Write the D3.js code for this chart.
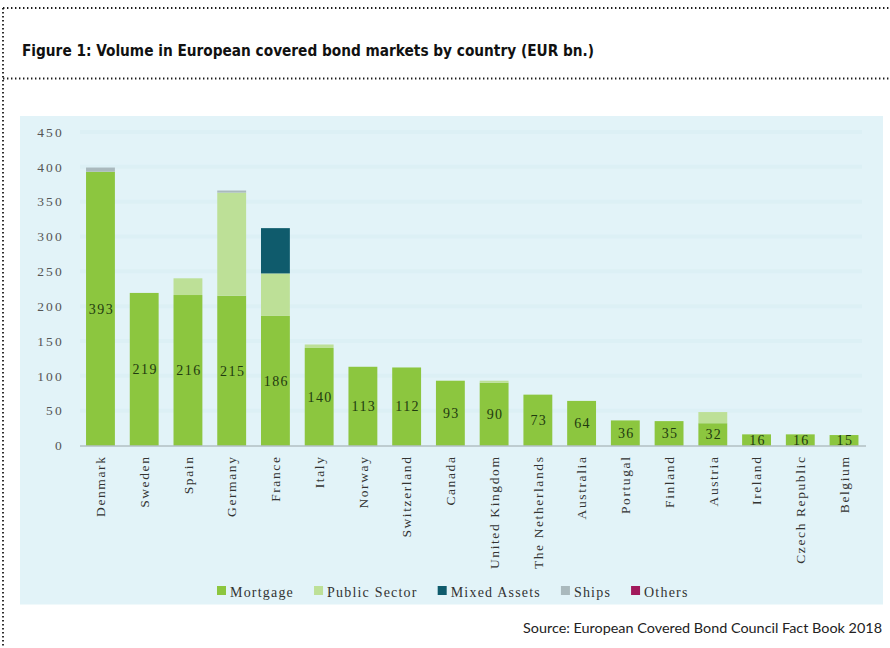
<!DOCTYPE html>
<html>
<head>
<meta charset="utf-8">
<script src="https://cdn.jsdelivr.net/npm/d3@7/dist/d3.min.js"></script>
<style>
  html, body { margin: 0; padding: 0; background: #ffffff; }
  svg { display: block; }
  .serif { font-family: "Liberation Serif", "DejaVu Serif", "Times New Roman", Times, serif; }
</style>
</head>
<body>
<svg id="chart" width="890" height="648"></svg>
<script>
// Covered bond volumes by country, EUR bn, split by collateral type
const categories = ["Denmark", "Sweden", "Spain", "Germany", "France", "Italy", "Norway",
  "Switzerland", "Canada", "United Kingdom", "The Netherlands", "Australia", "Portugal",
  "Finland", "Austria", "Ireland", "Czech Republic", "Belgium"];
const mortgage     = [393, 219, 216, 215, 186, 140, 113, 112, 93, 90, 73, 64, 36, 35, 32, 16, 16, 15];
const publicSector = [0, 0, 24, 148, 61, 5, 0, 0, 0, 3, 0, 0, 0, 0, 16, 0, 0, 0];
const mixedAssets  = [0, 0, 0, 0, 65, 0, 0, 0, 0, 0, 0, 0, 0, 0, 0, 0, 0, 0];
const ships        = [6, 0, 0, 3, 0, 0, 0, 0, 0, 0, 0, 0, 0, 0, 0, 0, 0, 0];
const others       = [0, 0, 0, 0, 0, 0, 0, 0, 0, 0, 0, 0, 0, 0, 0, 0, 0, 0];
const seriesNames  = ["Mortgage", "Public Sector", "Mixed Assets", "Ships", "Others"];
const yTicks       = [0, 50, 100, 150, 200, 250, 300, 350, 400, 450];

const titleText  = "Figure 1: Volume in European covered bond markets by country (EUR bn.)";
const sourceText = "Source: European Covered Bond Council Fact Book 2018";

const colors = {
  "Mortgage": "#8cc63f",
  "Public Sector": "#bde097",
  "Mixed Assets": "#0f5b6c",
  "Ships": "#aab9bd",
  "Others": "#a1195b"
};

const seriesValues = [mortgage, publicSector, mixedAssets, ships, others];
const rows = categories.map((c, i) => {
  const r = { country: c };
  seriesNames.forEach((s, k) => { r[s] = seriesValues[k][i]; });
  return r;
});

const svg = d3.select("#chart");

// Frame: dotted rules around the figure header
const dots = svg.append("g")
  .attr("stroke", "#1a1a1a")
  .attr("stroke-width", 1.8)
  .attr("stroke-dasharray", "1.4 2.6")
  .attr("fill", "none");
dots.append("line").attr("x1", 3).attr("x2", 890).attr("y1", 8).attr("y2", 8);
dots.append("line").attr("x1", 3).attr("x2", 890).attr("y1", 78.5).attr("y2", 78.5);
dots.append("line").attr("x1", 3).attr("x2", 3).attr("y1", 8).attr("y2", 648);

svg.append("text")
  .attr("x", 22)
  .attr("y", 55.5)
  .style("font-family", "'DejaVu Sans Condensed', 'Liberation Sans Narrow', 'Liberation Sans', sans-serif")
  .style("font-weight", "bold")
  .style("font-size", "16px")
  .attr("fill", "#111")
  .attr("textLength", 572)
  .attr("lengthAdjust", "spacingAndGlyphs")
  .text(titleText);

// Plot panel background
svg.append("rect")
  .attr("x", 20).attr("y", 116)
  .attr("width", 863).attr("height", 488.5)
  .attr("fill", "#e2f3f8");

const x = d3.scaleBand()
  .domain(categories)
  .range([78.6, 865.9])
  .paddingInner(0.34)
  .paddingOuter(0.17);

const y = d3.scaleLinear()
  .domain([0, 450])
  .range([445.5, 132]);

// Faint horizontal guides
svg.append("g")
  .selectAll("line")
  .data(yTicks.filter(t => t > 0))
  .join("line")
  .attr("x1", 80).attr("x2", 862)
  .attr("y1", d => y(d)).attr("y2", d => y(d))
  .attr("stroke", "#dcf0f5")
  .attr("stroke-width", 4);

// Y axis labels
const yAxis = d3.axisLeft(y).tickValues(yTicks).tickSize(0).tickPadding(0).tickFormat(d3.format("d"));
const yg = svg.append("g")
  .attr("transform", "translate(64,0)")
  .call(yAxis)
  .attr("font-family", null)
  .attr("font-size", null);
yg.select(".domain").remove();
yg.selectAll("text")
  .attr("class", "serif")
  .style("font-size", "13.5px")
  .style("letter-spacing", "2.2px")
  .attr("fill", "#555");

// Stacked bars
const stack = d3.stack().keys(seriesNames);
const layers = stack(rows);

svg.append("g")
  .selectAll("g")
  .data(layers)
  .join("g")
  .attr("fill", d => colors[d.key])
  .selectAll("rect")
  .data(d => d.filter(p => p[1] - p[0] > 0))
  .join("rect")
  .attr("x", d => x(d.data.country))
  .attr("width", x.bandwidth())
  .attr("y", d => y(d[1]))
  .attr("height", d => y(d[0]) - y(d[1]));

// Baseline
svg.append("line")
  .attr("x1", 80).attr("x2", 866)
  .attr("y1", y(0) + 0.5).attr("y2", y(0) + 0.5)
  .attr("stroke", "#9aa6a8")
  .attr("stroke-width", 1);

// Mortgage value labels, centred in the mortgage segment
svg.append("g")
  .selectAll("text")
  .data(rows)
  .join("text")
  .attr("class", "serif")
  .attr("x", d => x(d.country) + x.bandwidth() / 2 + 1)
  .attr("y", d => y(d["Mortgage"] / 2))
  .attr("dy", "0.35em")
  .attr("text-anchor", "middle")
  .style("font-size", "14px")
  .style("letter-spacing", "1.4px")
  .attr("fill", "#1f3a10")
  .text(d => d["Mortgage"]);

// Category labels
const xAxis = d3.axisBottom(x).tickSize(0).tickPadding(0);
const xg = svg.append("g")
  .attr("transform", `translate(0,${y(0)})`)
  .call(xAxis)
  .attr("font-family", null)
  .attr("font-size", null);
xg.select(".domain").remove();
xg.selectAll("text")
  .attr("class", "serif")
  .attr("transform", "rotate(-90)")
  .attr("x", -10)
  .attr("y", 0)
  .attr("dy", "0.35em")
  .attr("text-anchor", "end")
  .style("font-size", "13.5px")
  .style("letter-spacing", "1.6px")
  .attr("fill", "#333");

// Legend
const legend = svg.append("g");
let lx = 217;
seriesNames.forEach(name => {
  const item = legend.append("g");
  item.append("rect")
    .attr("x", lx).attr("y", 586)
    .attr("width", 9).attr("height", 9)
    .attr("fill", colors[name]);
  const t = item.append("text")
    .attr("class", "serif")
    .attr("x", lx + 13)
    .attr("y", 596.5)
    .style("font-size", "14px")
    .style("letter-spacing", "1.2px")
    .attr("fill", "#333")
    .text(name);
  lx += 13 + t.node().getComputedTextLength() + 20;
});

// Source note
svg.append("text")
  .attr("x", 882)
  .attr("y", 633)
  .attr("text-anchor", "end")
  .style("font-family", "Lato, 'Open Sans', sans-serif")
  .style("font-size", "14px")
  .attr("fill", "#222")
  .attr("textLength", 359)
  .attr("lengthAdjust", "spacingAndGlyphs")
  .text(sourceText);
</script>
</body>
</html>
